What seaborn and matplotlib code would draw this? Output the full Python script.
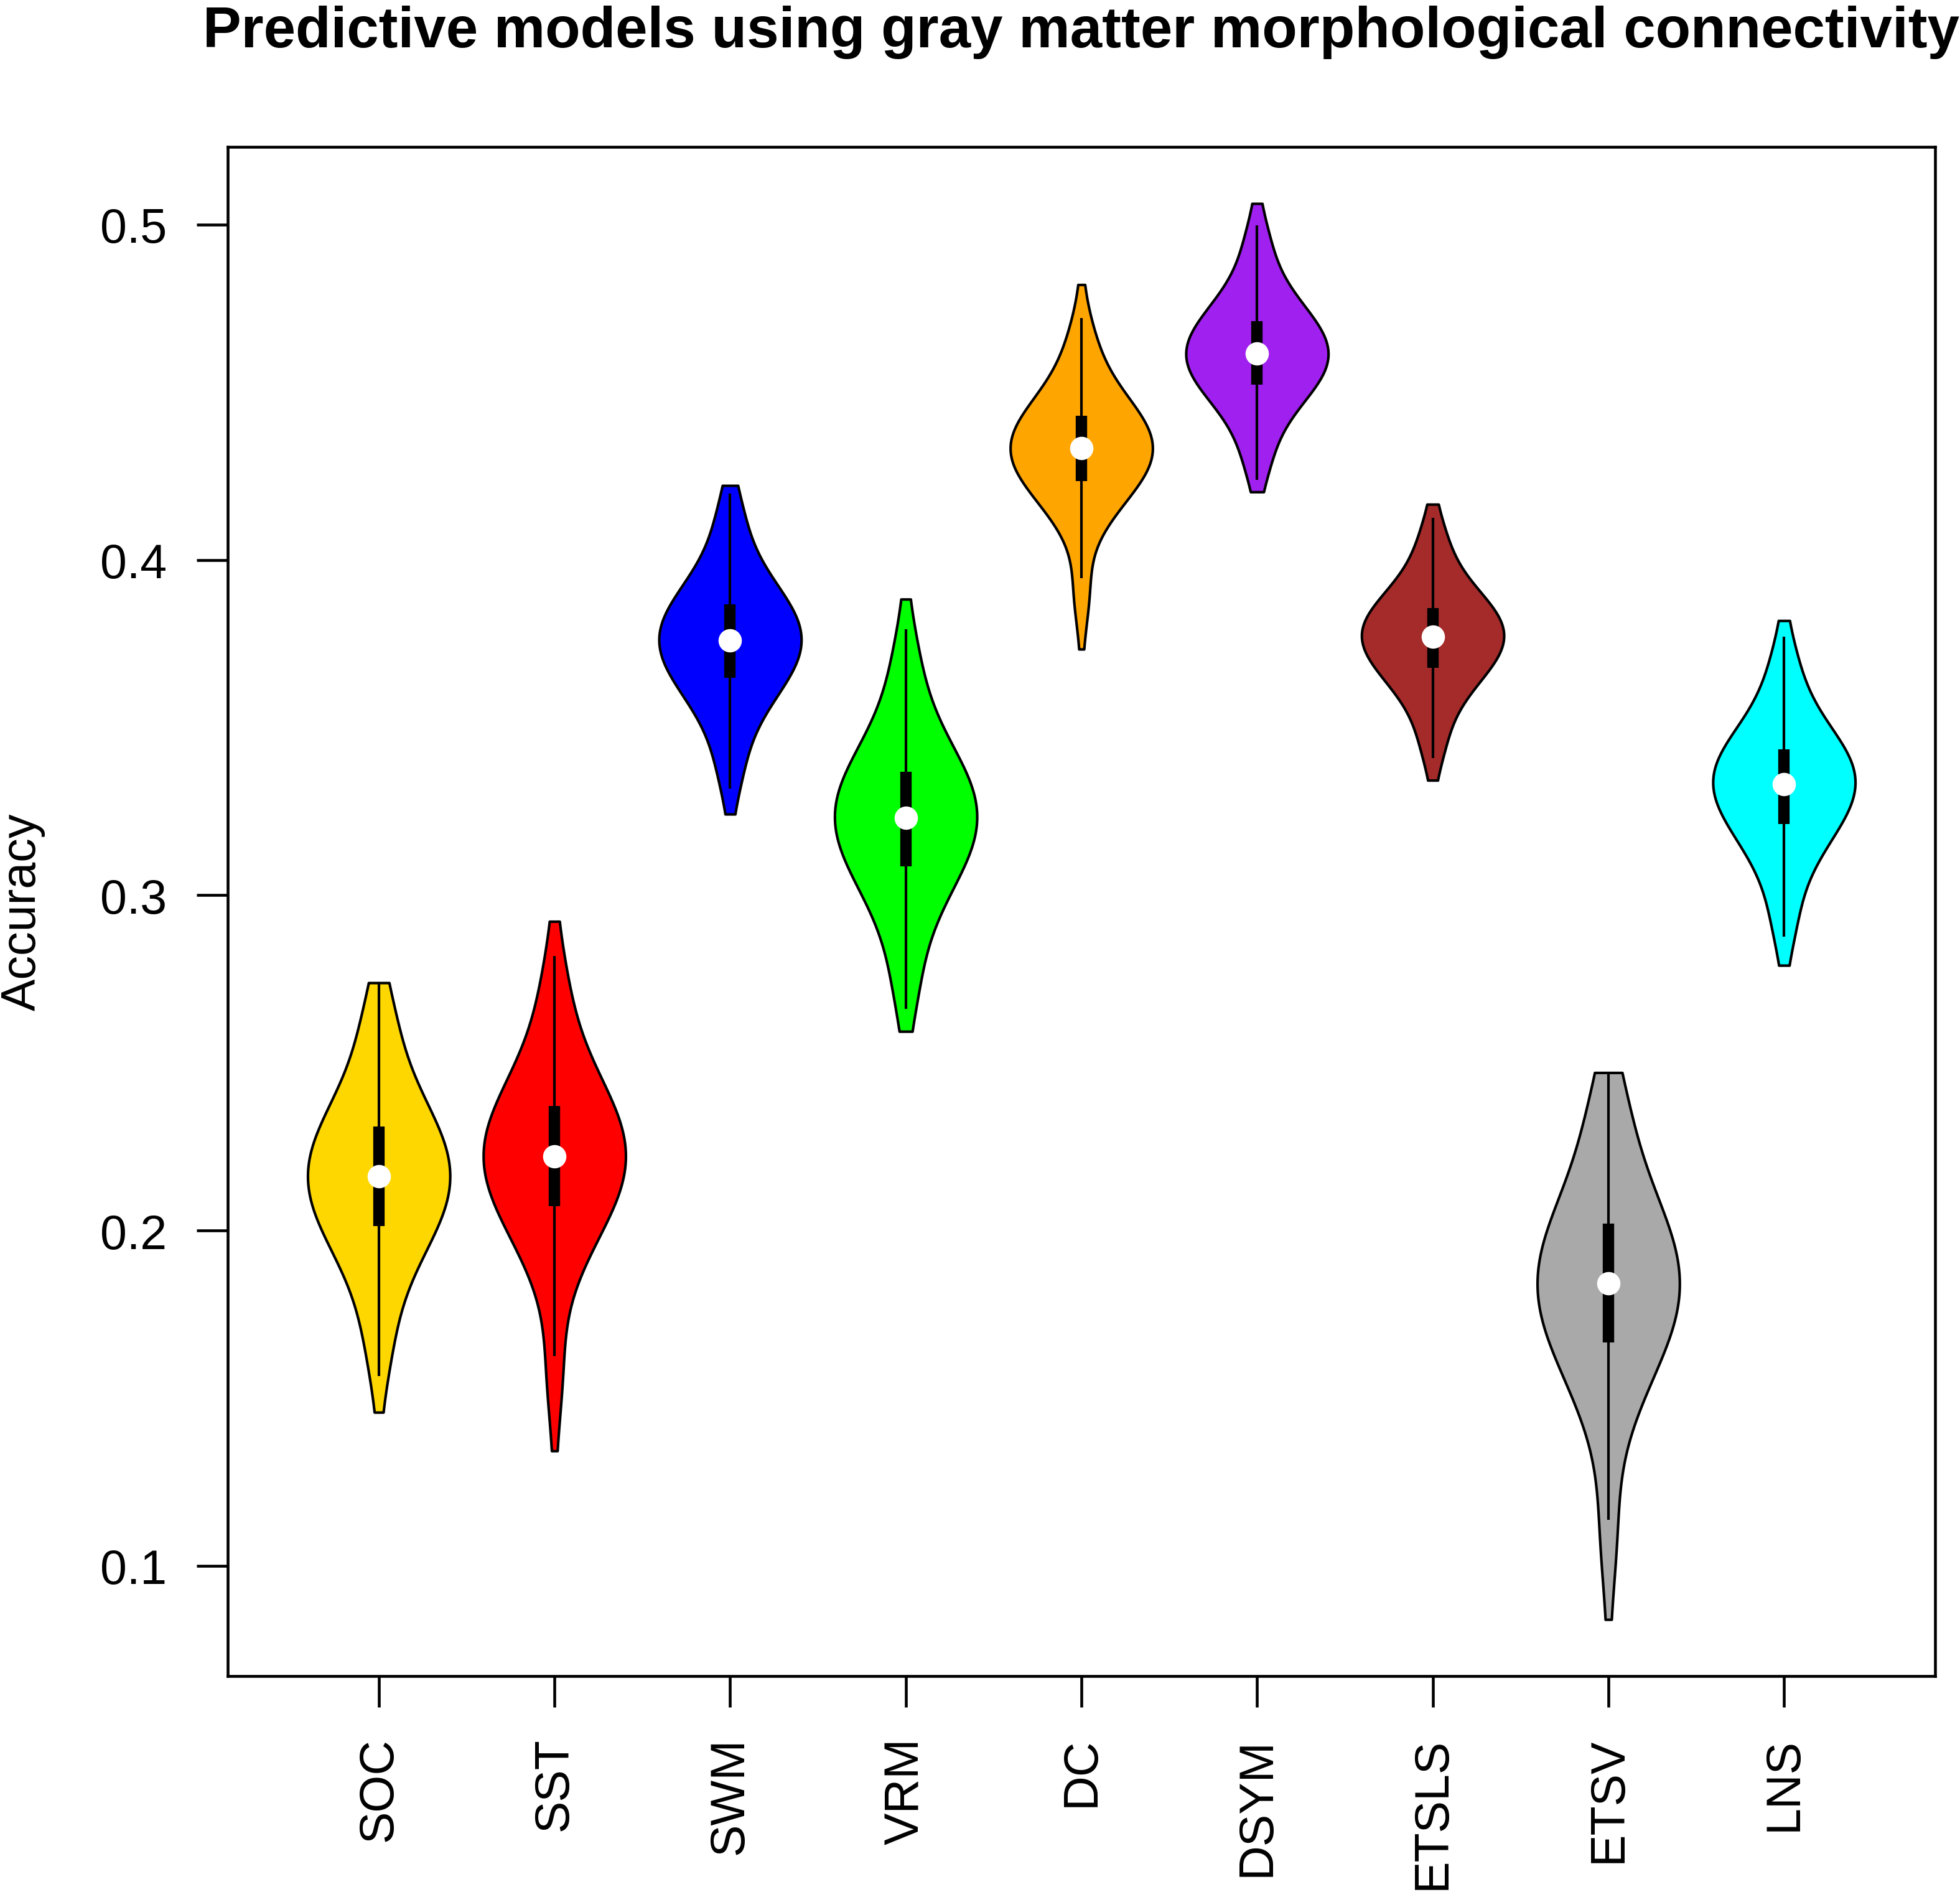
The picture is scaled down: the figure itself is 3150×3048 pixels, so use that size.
import numpy as np
import pandas as pd
import matplotlib.pyplot as plt
import seaborn as sns

# accuracy values per model, estimated from the violins in the figure
models = ['SOC', 'SST', 'SWM', 'VRM', 'DC', 'DSYM', 'ETSLS', 'ETSV', 'LNS']

soc = [0.1458, 0.1635, 0.1749, 0.1814, 0.1860, 0.1896, 0.1925, 0.1951, 0.1973, 0.1994, 0.2013,
       0.2031, 0.2047, 0.2063, 0.2078, 0.2093, 0.2107, 0.2121, 0.2135, 0.2149, 0.2162,
       0.2176, 0.2189, 0.2203, 0.2217, 0.2231, 0.2246, 0.2261, 0.2277, 0.2293, 0.2311,
       0.2330, 0.2351, 0.2373, 0.2399, 0.2428, 0.2465, 0.2510, 0.2575, 0.2657, 0.2739]
sst = [0.1343, 0.1576, 0.1809, 0.1874, 0.1920, 0.1956, 0.1985, 0.2011, 0.2033, 0.2054, 0.2073,
       0.2091, 0.2107, 0.2123, 0.2138, 0.2153, 0.2167, 0.2181, 0.2195, 0.2209, 0.2222,
       0.2236, 0.2249, 0.2263, 0.2277, 0.2291, 0.2306, 0.2321, 0.2337, 0.2353, 0.2371,
       0.2390, 0.2411, 0.2433, 0.2459, 0.2488, 0.2525, 0.2570, 0.2635, 0.2749, 0.2922]
swm = [0.3242, 0.3364, 0.3450, 0.3499, 0.3533, 0.3560, 0.3582, 0.3601, 0.3618, 0.3634, 0.3648,
       0.3661, 0.3674, 0.3686, 0.3697, 0.3708, 0.3719, 0.3729, 0.3740, 0.3750, 0.3760,
       0.3770, 0.3780, 0.3790, 0.3800, 0.3810, 0.3821, 0.3832, 0.3843, 0.3855, 0.3868,
       0.3882, 0.3897, 0.3913, 0.3932, 0.3953, 0.3979, 0.4012, 0.4059, 0.4142, 0.4222]
vrm = [0.2594, 0.2718, 0.2829, 0.2892, 0.2937, 0.2972, 0.3000, 0.3025, 0.3048, 0.3068, 0.3086,
       0.3103, 0.3119, 0.3135, 0.3150, 0.3164, 0.3178, 0.3191, 0.3205, 0.3218, 0.3231,
       0.3244, 0.3256, 0.3269, 0.3282, 0.3295, 0.3309, 0.3323, 0.3337, 0.3353, 0.3369,
       0.3387, 0.3406, 0.3427, 0.3451, 0.3478, 0.3512, 0.3554, 0.3614, 0.3720, 0.3883]
dc = [0.3734, 0.3899, 0.4064, 0.4106, 0.4136, 0.4160, 0.4179, 0.4195, 0.4210, 0.4224, 0.4236,
      0.4247, 0.4258, 0.4269, 0.4279, 0.4288, 0.4297, 0.4306, 0.4315, 0.4324, 0.4333,
      0.4342, 0.4351, 0.4360, 0.4369, 0.4378, 0.4387, 0.4397, 0.4408, 0.4419, 0.4430,
      0.4442, 0.4456, 0.4471, 0.4487, 0.4507, 0.4530, 0.4560, 0.4602, 0.4676, 0.4821]
dsym = [0.4203, 0.4287, 0.4358, 0.4399, 0.4427, 0.4450, 0.4468, 0.4484, 0.4498, 0.4511, 0.4523,
        0.4534, 0.4544, 0.4554, 0.4564, 0.4573, 0.4582, 0.4591, 0.4599, 0.4608, 0.4616,
        0.4625, 0.4634, 0.4643, 0.4652, 0.4661, 0.4670, 0.4680, 0.4691, 0.4702, 0.4713,
        0.4725, 0.4739, 0.4754, 0.4770, 0.4790, 0.4813, 0.4843, 0.4885, 0.4959, 0.5063]
etsls = [0.3343, 0.3442, 0.3513, 0.3554, 0.3582, 0.3605, 0.3623, 0.3639, 0.3653, 0.3666, 0.3678,
         0.3689, 0.3699, 0.3709, 0.3719, 0.3728, 0.3737, 0.3746, 0.3754, 0.3763, 0.3771,
         0.3779, 0.3787, 0.3795, 0.3803, 0.3811, 0.3819, 0.3828, 0.3837, 0.3847, 0.3857,
         0.3868, 0.3880, 0.3893, 0.3908, 0.3925, 0.3946, 0.3973, 0.4010, 0.4076, 0.4166]
etsv = [0.0840, 0.1098, 0.1356, 0.1432, 0.1486, 0.1529, 0.1563, 0.1594, 0.1620, 0.1645, 0.1667,
        0.1688, 0.1707, 0.1726, 0.1744, 0.1761, 0.1778, 0.1794, 0.1810, 0.1826, 0.1842,
        0.1858, 0.1874, 0.1891, 0.1907, 0.1924, 0.1942, 0.1960, 0.1979, 0.1999, 0.2020,
        0.2043, 0.2067, 0.2094, 0.2125, 0.2160, 0.2203, 0.2258, 0.2335, 0.2403, 0.2471]
lns = [0.2791, 0.2909, 0.3000, 0.3052, 0.3089, 0.3118, 0.3141, 0.3162, 0.3180, 0.3197, 0.3212,
       0.3226, 0.3239, 0.3252, 0.3264, 0.3276, 0.3287, 0.3298, 0.3309, 0.3320, 0.3331,
       0.3341, 0.3350, 0.3360, 0.3370, 0.3380, 0.3390, 0.3401, 0.3412, 0.3424, 0.3436,
       0.3450, 0.3464, 0.3480, 0.3498, 0.3519, 0.3545, 0.3577, 0.3623, 0.3703, 0.3819]

# how many runs gave each listed value
runs = [1, 6] + [3] * 37 + [6, 1]

colors = ['#FFD700', '#FF0000', '#0000FF', '#00FF00', '#FFA500',
          '#A020F0', '#A52A2A', '#A9A9A9', '#00FFFF']

series = [np.repeat(s, runs) for s in [soc, sst, swm, vrm, dc, dsym, etsls, etsv, lns]]
df = pd.DataFrame({
    'model': np.repeat(models, [len(s) for s in series]),
    'accuracy': np.concatenate(series),
})

sns.set_style('ticks', {'axes.edgecolor': 'black', 'xtick.color': 'black',
                        'ytick.color': 'black', 'text.color': 'black',
                        'axes.labelcolor': 'black'})
plt.rcParams['font.family'] = ['Liberation Sans', 'DejaVu Sans']

fig = plt.figure(figsize=(10.5, 10.163), dpi=300)
ax = fig.add_axes([0.1162, 0.1164, 0.8711, 0.8059])

sns.violinplot(data=df, x='model', y='accuracy', hue='model', order=models,
               hue_order=models, palette=colors, inner=None, cut=0,
               density_norm='width', width=0.81, linewidth=1.0, gridsize=300,
               linecolor='black', saturation=1, legend=False, bw_adjust=1.35, ax=ax)

# box part, R vioplot style
for i, v in enumerate(series):
    q1, med, q3 = np.percentile(v, [25, 50, 75])
    iqr = q3 - q1
    lo = max(q1 - 1.5 * iqr, v.min())
    hi = min(q3 + 1.5 * iqr, v.max())
    ax.vlines(i, lo, hi, color='black', lw=1.0, capstyle='butt', zorder=3)
    ax.vlines(i, q1, q3, color='black', lw=4.4, capstyle='butt', zorder=4)
    ax.plot(i, med, 'o', color='white', ms=9, mec='none', zorder=5)

allv = df['accuracy']
rng = allv.max() - allv.min()
ax.set_ylim(allv.min() - 0.04 * rng, allv.max() + 0.04 * rng)
ax.set_xlim(-0.86, len(models) - 1 + 0.86)

ax.set_yticks([0.1, 0.2, 0.3, 0.4, 0.5])
ax.set_yticklabels(['0.1', '0.2', '0.3', '0.4', '0.5'])
ax.set_xticks(range(len(models)))
ax.set_xticklabels(models, rotation=90)
ax.tick_params(axis='both', labelsize=18.5, length=12, width=1.1, pad=11.5)

for sp in ax.spines.values():
    sp.set_linewidth(1.1)
    sp.set_color('black')

ax.set_xlabel('')
ax.set_ylabel('Accuracy', fontsize=18.5)
ax.yaxis.label.set_va('center')
ax.yaxis.set_label_coords(-0.1203, 0.5)

ax.set_title('Predictive models using gray matter morphological connectivity',
             fontsize=22.2, fontweight='bold', pad=38.6)

fig.savefig('out.png', dpi=300)
